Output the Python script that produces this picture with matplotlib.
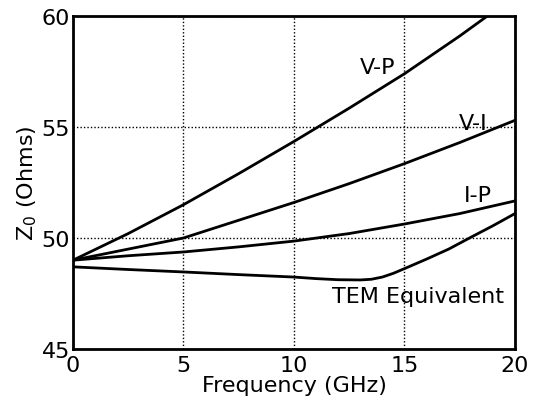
import matplotlib
matplotlib.use("Agg")
import matplotlib.pyplot as plt
import numpy as np

plt.rcParams['font.family'] = ['DejaVu Sans']
plt.rcParams['mathtext.default'] = 'regular'

freq = [0, 2.5, 5, 7.5, 10, 12.5, 15, 17.5, 20]
vp = [49.0, 50.2, 51.5, 52.9, 54.35, 55.85, 57.4, 59.1, 60.9]
vi = [49.0, 49.5, 50.0, 50.8, 51.6, 52.45, 53.35, 54.3, 55.3]
ip = [49.0, 49.2, 49.37, 49.6, 49.86, 50.2, 50.63, 51.1, 51.67]
tem_f = [0, 2.5, 5, 7.5, 10, 11, 12, 13, 13.5, 14, 14.5, 15, 16, 17, 18, 19, 20]
tem = [48.7, 48.58, 48.47, 48.35, 48.24, 48.17, 48.12, 48.11, 48.14, 48.24, 48.41, 48.62, 49.05, 49.5, 50.03, 50.55, 51.1]

labels = ["V-P", "V-I", "I-P", "TEM Equivalent"]
label_pos = [(13.8, 57.7), (18.1, 55.2), (18.3, 51.95), (15.6, 47.4)]

fig = plt.figure(figsize=(5.34, 4.02), dpi=100)
ax = fig.add_axes([0.1367, 0.1294, 0.8277, 0.8283])

for x, y in [(freq, vp), (freq, vi), (freq, ip), (tem_f, tem)]:
    ax.plot(x, y, color='black', lw=2.0, clip_on=True, solid_joinstyle='round')

for t, (x, y) in zip(labels, label_pos):
    ax.text(x, y, t, fontsize=16, ha='center', va='center', color='black')

ax.set_xlim(0, 20)
ax.set_ylim(45, 60)
ax.set_xticks([0, 5, 10, 15, 20])
ax.set_yticks([45, 50, 55, 60])
ax.grid(True, color='black', linestyle=(0, (1, 1.5)), lw=1.0)
for s in ax.spines.values():
    s.set_linewidth(2.0)
ax.tick_params(length=0, labelsize=16)
ax.tick_params(axis='x', pad=4)
ax.tick_params(axis='y', pad=2)
ax.set_xlabel("Frequency (GHz)", fontsize=16, labelpad=0)
ax.set_ylabel("Z$_0$ (Ohms)", fontsize=16, labelpad=2)

fig.savefig("out.png", dpi=100)
